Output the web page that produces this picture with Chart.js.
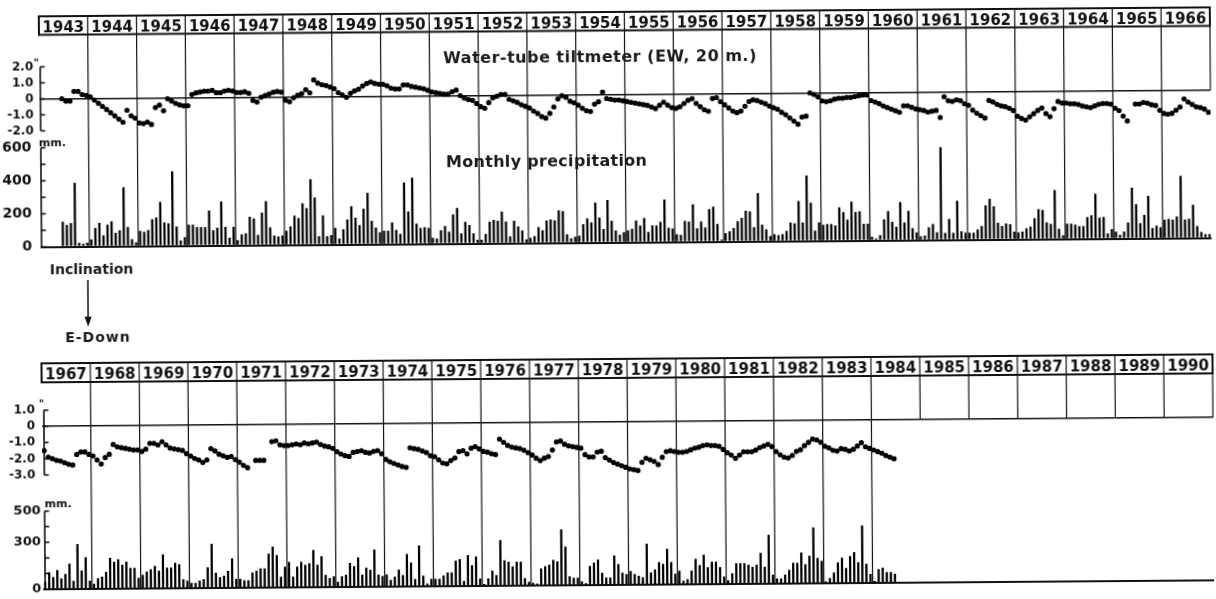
<!DOCTYPE html>
<html><head><meta charset="utf-8">
<script src="https://cdn.jsdelivr.net/npm/chart.js@4.4.0/dist/chart.umd.min.js"></script>
<style>
html,body{margin:0;padding:0;background:#fff;overflow:hidden;}
#wrap{position:relative;width:1216px;height:599px;transform:rotate(-0.44deg);transform-origin:608px 299.5px;}
canvas{position:absolute;left:0;}
.t{position:absolute;font-family:"DejaVu Sans",sans-serif;font-weight:bold;color:#1a1a1a;white-space:nowrap;}
</style></head><body>
<div id="wrap">
<canvas id="c1" width="1216" height="262" style="top:0px"></canvas>
<canvas id="c2" width="1216" height="349" style="top:250px"></canvas>
<div class="t" style="left:445px;top:48.5px;font-size:16px;line-height:16px;letter-spacing:0.5px">Water-tube tiltmeter (EW, 20 m.)</div>
<div class="t" style="left:447px;top:153px;font-size:16px;line-height:16px;letter-spacing:0.3px">Monthly precipitation</div>
<div class="t" style="left:50px;top:257.5px;font-size:14px;line-height:14px">Inclination</div>
<div class="t" style="left:65px;top:326px;font-size:14px;line-height:14px;letter-spacing:1px">E-Down</div>
</div>
<script>
// ---------- DATA ----------
const yearsTop = ['1943','1944','1945','1946','1947','1948','1949','1950','1951','1952','1953','1954',
                  '1955','1956','1957','1958','1959','1960','1961','1962','1963','1964','1965','1966'];
const yearsBottom = ['1967','1968','1969','1970','1971','1972','1973','1974','1975','1976','1977','1978',
                     '1979','1980','1981','1982','1983','1984','1985','1986','1987','1988','1989','1990'];

// tilt (seconds of arc), monthly, one row per year
const tiltTop = [
 [null,null,null,null,null,0.0,-0.15,-0.15,0.45,0.45,0.25,0.2],
 [0.1,-0.1,-0.3,-0.5,-0.7,-0.9,-1.1,-1.3,-1.5,-0.75,-1.1,-1.25],
 [-1.55,-1.6,-1.5,-1.65,-0.6,-0.45,-0.8,-0.05,-0.2,-0.35,-0.45,-0.5],
 [-0.5,0.2,0.3,0.35,0.4,0.4,0.45,0.3,0.3,0.4,0.45,0.4],
 [0.3,0.3,0.35,0.25,-0.2,-0.3,0.0,0.1,0.2,0.3,0.35,0.3],
 [-0.2,-0.3,-0.05,0.1,0.2,0.45,0.25,1.05,0.85,0.75,0.7,0.6],
 [0.5,0.25,0.1,-0.05,0.2,0.35,0.45,0.65,0.8,0.9,0.8,0.75],
 [0.75,0.65,0.5,0.45,0.45,0.7,0.7,0.6,0.55,0.5,0.45,0.35],
 [0.25,0.2,0.15,0.1,0.1,0.25,0.35,0.0,-0.15,-0.25,-0.3,-0.5],
 [-0.7,-0.8,-0.45,-0.15,-0.05,0.05,0.05,-0.25,-0.35,-0.45,-0.6,-0.7],
 [-0.8,-1.0,-1.15,-1.35,-1.45,-1.15,-0.75,-0.25,-0.05,-0.15,-0.4,-0.5],
 [-0.65,-0.85,-1.0,-1.05,-0.6,-0.45,0.15,-0.25,-0.3,-0.35,-0.35,-0.4],
 [-0.45,-0.5,-0.55,-0.6,-0.65,-0.7,-0.8,-0.9,-0.7,-0.5,-0.7,-0.85],
 [-0.9,-0.8,-0.6,-0.4,-0.3,-0.6,-0.8,-1.0,-1.1,-0.3,-0.25,-0.5],
 [-0.7,-0.9,-1.1,-1.2,-1.1,-0.8,-0.5,-0.4,-0.45,-0.55,-0.65,-0.8],
 [-0.9,-1.0,-1.2,-1.35,-1.55,-1.75,-1.95,-1.5,-1.45,0.0,-0.1,-0.25],
 [-0.5,-0.55,-0.5,-0.4,-0.35,-0.35,-0.3,-0.3,-0.25,-0.2,-0.15,-0.15],
 [-0.5,-0.6,-0.7,-0.85,-0.95,-1.05,-1.15,-1.25,-0.85,-0.85,-0.95,-1.05],
 [-1.1,-1.15,-1.25,-1.2,-1.15,-1.6,-0.3,-0.55,-0.6,-0.5,-0.55,-0.75],
 [-0.85,-1.15,-1.35,-1.5,-1.65,-0.55,-0.65,-0.8,-0.9,-0.95,-1.05,-1.2],
 [-1.55,-1.7,-1.8,-1.6,-1.4,-1.2,-1.05,-1.4,-1.6,-1.1,-0.65,-0.75],
 [-0.75,-0.8,-0.8,-0.85,-0.95,-1.0,-1.05,-0.95,-0.85,-0.8,-0.8,-0.85],
 [-1.1,-1.25,-1.6,-1.9,null,-0.85,-0.85,-0.75,-0.8,-0.9,-0.95,-1.25],
 [-1.45,-1.5,-1.45,-1.25,-1.05,-0.55,-0.75,-0.9,-1.05,-1.1,-1.2,-1.4]
];
const tiltBottom = [
 [-1.5,-1.9,-2.0,-2.1,-2.15,-2.25,-2.35,-2.4,-1.75,-1.6,-1.6,-1.75],
 [-1.85,-2.1,-2.35,-1.95,-1.75,-1.15,-1.3,-1.35,-1.4,-1.45,-1.5,-1.5],
 [-1.6,-1.45,-1.1,-1.1,-1.2,-1.0,-1.2,-1.4,-1.45,-1.5,-1.55,-1.75],
 [-1.9,-2.05,-2.15,-2.3,-2.15,-1.45,-1.6,-1.8,-1.9,-2.0,-1.95,-2.15],
 [-2.3,-2.5,-2.65,null,-2.2,-2.2,-2.2,null,-1.05,-1.0,-1.25,-1.3],
 [-1.3,-1.25,-1.2,-1.25,-1.15,-1.2,-1.15,-1.1,-1.25,-1.35,-1.4,-1.5],
 [-1.7,-1.85,-1.95,-2.0,-1.75,-1.7,-1.65,-1.75,-1.8,-1.7,-1.65,-1.85],
 [-2.2,-2.35,-2.45,-2.55,-2.65,-2.7,-1.5,-1.55,-1.6,-1.7,-1.8,-2.0],
 [-2.05,-2.25,-2.45,-2.5,-2.3,-2.15,-1.75,-1.7,-1.9,-1.55,-1.45,-1.6],
 [-1.75,-1.8,-1.9,-1.95,-1.0,-1.2,-1.4,-1.5,-1.55,-1.6,-1.7,-1.85],
 [-2.0,-2.2,-2.35,-2.2,-2.1,-1.7,-1.2,-1.15,-1.35,-1.45,-1.5,-1.55],
 [-1.6,-2.0,-2.15,-2.15,-1.85,-1.8,-2.2,-2.35,-2.5,-2.6,-2.7,-2.8],
 [-2.9,-2.95,-3.0,-2.5,-2.25,-2.35,-2.45,-2.65,-2.2,-1.85,-1.8,-1.85],
 [-1.9,-1.9,-1.85,-1.75,-1.65,-1.6,-1.5,-1.45,-1.5,-1.5,-1.55,-1.75],
 [-1.95,-2.1,-2.3,-2.1,-1.9,-1.9,-1.9,-1.8,-1.65,-1.55,-1.45,-1.6],
 [-1.9,-2.1,-2.25,-2.3,-2.15,-1.9,-1.8,-1.55,-1.35,-1.15,-1.2,-1.35],
 [-1.6,-1.7,-1.85,-1.9,-1.75,-1.8,-1.9,-1.8,-1.6,-1.4,-1.65,-1.75],
 [-1.85,-1.95,-2.05,-2.2,-2.3,-2.4,null,null,null,null,null,null],
 [null,null,null,null,null,null,null,null,null,null,null,null],
 [null,null,null,null,null,null,null,null,null,null,null,null],
 [null,null,null,null,null,null,null,null,null,null,null,null],
 [null,null,null,null,null,null,null,null,null,null,null,null],
 [null,null,null,null,null,null,null,null,null,null,null,null],
 [null,null,null,null,null,null,null,null,null,null,null,null]
];

// monthly precipitation (mm), one row per year
const precipTop = [
 [null,null,null,null,null,150,130,140,385,20,15,20],
 [40,110,140,65,130,150,80,95,355,115,40,20],
 [90,85,95,160,170,265,140,135,450,115,30,50],
 [125,125,110,110,110,210,90,105,265,110,45,110],
 [30,65,70,170,160,60,195,265,105,55,50,55],
 [85,110,175,160,250,220,395,285,50,175,50,55],
 [100,35,90,150,230,160,115,215,310,140,100,70],
 [80,80,130,85,60,370,195,400,120,95,100,95],
 [35,30,80,105,70,175,215,60,130,110,60,20],
 [20,55,130,140,135,190,130,40,135,100,75,20],
 [30,40,95,75,135,140,135,195,190,50,25,35],
 [40,110,145,120,240,150,80,255,130,70,45,60],
 [70,80,130,100,145,60,100,100,120,255,85,80],
 [45,40,125,120,225,80,120,85,195,210,105,10],
 [50,60,80,120,140,185,180,85,290,100,70,30],
 [40,35,40,60,110,105,240,110,395,230,60,110],
 [95,100,100,90,200,170,125,235,170,175,100,100],
 [20,10,30,125,175,110,80,230,105,175,70,45],
 [20,25,75,95,45,560,40,125,40,235,50,40],
 [40,40,60,80,205,245,200,100,80,95,90,45],
 [40,45,65,75,125,180,175,100,90,295,60,20],
 [90,90,85,75,75,130,140,270,125,130,30,55],
 [40,20,40,95,305,205,90,140,255,60,75,65],
 [110,115,110,130,375,110,115,200,70,35,20,20]
];
const precipBottom = [
 [45,105,75,120,65,95,160,50,285,115,200,50],
 [30,65,75,105,195,170,185,150,170,130,130,65],
 [85,105,120,140,110,215,130,130,160,150,55,45],
 [30,30,45,55,130,280,95,65,75,105,185,55],
 [55,45,45,95,105,120,120,215,260,205,65,130],
 [160,65,130,160,140,150,235,140,195,75,55,65],
 [30,65,75,150,130,185,75,120,105,235,75,65],
 [75,40,60,105,70,205,150,45,260,65,15,45],
 [45,45,65,85,85,160,170,30,195,130,185,45],
 [10,45,95,65,290,160,150,120,150,150,45,20],
 [15,10,105,120,130,160,150,355,245,55,45,45],
 [20,10,120,140,160,75,45,45,185,130,75,65],
 [85,65,55,45,260,75,95,140,130,225,140,65],
 [85,20,30,85,160,120,185,105,140,140,105,45],
 [20,65,130,130,130,120,105,120,195,105,310,55],
 [30,30,55,85,130,130,195,120,175,355,160,140],
 [10,30,65,130,160,95,170,195,130,365,120,55],
 [10,85,95,65,65,55,null,null,null,null,null,null],
 [null,null,null,null,null,null,null,null,null,null,null,null],
 [null,null,null,null,null,null,null,null,null,null,null,null],
 [null,null,null,null,null,null,null,null,null,null,null,null],
 [null,null,null,null,null,null,null,null,null,null,null,null],
 [null,null,null,null,null,null,null,null,null,null,null,null],
 [null,null,null,null,null,null,null,null,null,null,null,null]
];

// tick labels
const tiltTicksTop = [2, 1, 0, -1, -2];
const precipTicksTop = [0, 200, 400, 600];
const tiltTicksBottom = [1, 0, -1, -2, -3];
const precipTicksBottom = [0, 300, 500];

// ---------- DRAWING ----------
const INK = '#111';
Chart.defaults.font.family = '"DejaVu Sans", sans-serif';

const decorPlugin = {
  id: 'panelDecor',
  beforeDatasetsDraw(chart, args, o) {
    const {ctx, chartArea: a, scales} = chart;
    const xm = scales.xm, yt = scales.yt, yp = scales.yp;
    ctx.save();
    ctx.strokeStyle = INK; ctx.fillStyle = INK;
    // header box
    ctx.lineWidth = 2;
    ctx.strokeRect(a.left, o.headerTop, a.right - a.left, a.top - o.headerTop);
    // year boundary lines
    ctx.lineWidth = 1.2;
    for (let k = 1; k <= 24; k++) {
      const x = xm.getPixelForValue(12 * k);
      const yb = k <= o.fullUntil ? yp.getPixelForValue(0) : yt.getPixelForValue(0);
      ctx.beginPath(); ctx.moveTo(x, o.headerTop); ctx.lineTo(x, yb); ctx.stroke();
    }
    // axis brackets
    const ax = a.left + o.axisDx;
    const bracket = (scale, vals, step) => {
      const vmax = Math.max(...vals), vmin = Math.min(...vals);
      ctx.lineWidth = 1.6;
      ctx.beginPath();
      ctx.moveTo(ax, scale.getPixelForValue(vmax));
      ctx.lineTo(ax, scale.getPixelForValue(vmin));
      ctx.stroke();
      for (let v = vmin; v <= vmax + 1e-9; v += step) {
        const y = scale.getPixelForValue(v);
        ctx.beginPath(); ctx.moveTo(ax, y); ctx.lineTo(ax + 4.5, y); ctx.stroke();
      }
    };
    bracket(yt, o.tiltTicks, 1);
    bracket(yp, o.precipTicks, 100);
    // unit marks
    ctx.font = 'bold 10px "DejaVu Sans"';
    ctx.textAlign = 'left'; ctx.textBaseline = 'alphabetic';
    ctx.fillText('"', o.secX, yt.getPixelForValue(Math.max(...o.tiltTicks)) + o.secDy);
    ctx.font = 'bold 11px "DejaVu Sans"';
    ctx.fillText('mm.', o.mmX, yp.getPixelForValue(Math.max(...o.precipTicks)) + o.mmDy);
    // arrow
    if (o.arrow) {
      const ar = o.arrow;
      ctx.lineWidth = 1.5;
      ctx.beginPath(); ctx.moveTo(ar.x, ar.y1); ctx.lineTo(ar.x, ar.y2 - 8); ctx.stroke();
      ctx.beginPath(); ctx.moveTo(ar.x - 3.5, ar.y2 - 10); ctx.lineTo(ar.x + 3.5, ar.y2 - 10); ctx.lineTo(ar.x, ar.y2); ctx.closePath(); ctx.fill();
    }
    ctx.restore();
  }
};

function makePanel(id, c) {
  const tilt = c.tilt.flat(), precip = c.precip.flat();
  const tiltPts = [], precipPts = [];
  tilt.forEach((v, i) => { if (v !== null) tiltPts.push({x: i + 0.5, y: v}); });
  precip.forEach((v, i) => { if (v !== null) precipPts.push({x: i + 0.5, y: v}); });
  const zeroGrid = (w) => ({
    drawTicks: false,
    color: (g) => (g.tick && g.tick.value === 0) ? INK : 'rgba(0,0,0,0)',
    lineWidth: w
  });
  return new Chart(document.getElementById(id), {
    type: 'scatter',
    data: { datasets: [
      { type: 'bar', data: precipPts, xAxisID: 'xm', yAxisID: 'yp', backgroundColor: '#000',
        barThickness: 1.6, borderWidth: 0 },
      { type: 'scatter', data: tiltPts, xAxisID: 'xm', yAxisID: 'yt', pointRadius: 2.6,
        pointBackgroundColor: '#000', pointBorderWidth: 0, showLine: false }
    ]},
    options: {
      responsive: false, animation: false, events: [],
      layout: { padding: { top: c.padTop, bottom: c.padBottom, left: 0, right: c.padRight } },
      plugins: { legend: { display: false }, tooltip: { enabled: false }, panelDecor: c.decor },
      scales: {
        xy: { type: 'category', labels: c.years, position: 'top', offset: true,
              grid: { display: false, drawTicks: false }, border: { display: false },
              ticks: { autoSkip: false, maxRotation: 0, minRotation: 0, padding: c.yearPad, color: '#111',
                       font: { weight: 'bold', size: 15 } },
              afterFit(s) { s.height = c.headerH; } },
        xm: { type: 'linear', display: false, offset: false, min: 0, max: 288,
              grid: { offset: false } },
        yt: { type: 'linear', position: 'left', stack: 'panel', stackWeight: c.tiltW, weight: 2,
              min: c.tiltMin, max: c.tiltMax,
              afterBuildTicks(s) { s.ticks = c.decor.tiltTicks.map(v => ({value: v})); },
              afterFit(s) { s.width = 41; },
              grid: zeroGrid(1.4), border: { display: false },
              ticks: { autoSkip: false, padding: c.tiltPad, color: '#111', font: { weight: 'bold', size: c.tiltFont },
                       callback: (v) => v === 0 ? '0' : Number(v).toFixed(1) } },
        yp: { type: 'linear', position: 'left', stack: 'panel', stackWeight: c.precipW, weight: 1,
              min: 0, max: c.precipMax,
              afterBuildTicks(s) { s.ticks = c.decor.precipTicks.map(v => ({value: v})); },
              afterFit(s) { s.width = 41; },
              grid: zeroGrid(2), border: { display: false },
              ticks: { autoSkip: false, padding: c.precipPad, color: '#111', font: { weight: 'bold', size: c.precipFont },
                       callback: (v) => String(v) } }
      }
    },
    plugins: [decorPlugin]
  });
}

// top panel: chart area 30.5..242.5 ; tilt zero 94.5 (16 px/unit) ; precip 0 at 242.5 (0.165 px/mm)
makePanel('c1', {
  years: yearsTop, tilt: tiltTop, precip: precipTop,
  padTop: 11.5, headerH: 19, padBottom: 19.5, padRight: 3, yearPad: -3,
  tiltW: 105.5, precipW: 106.5,
  tiltMax: (94.5 - 30.5) / 16, tiltMin: (94.5 - 136) / 16,
  precipMax: 106.5 / 0.165,
  tiltPad: 6, tiltFont: 12, precipPad: 8.5, precipFont: 14,
  decor: { headerTop: 12, fullUntil: 23, tiltTicks: tiltTicksTop, precipTicks: precipTicksTop,
           axisDx: 1, secX: 35.5, secDy: -1, mmX: 40, mmDy: -2 }
});

// bottom panel (canvas top 250): chart area 128..335.5 ; tilt zero 172.2 (16.25 px/unit) ; precip 0 at 335.5 (0.1566 px/mm)
makePanel('c2', {
  years: yearsBottom, tilt: tiltBottom, precip: precipBottom,
  padTop: 109, headerH: 19, padBottom: 13.5, padRight: 1.5, yearPad: -2,
  tiltW: 110, precipW: 97.5,
  tiltMax: (172.2 - 128) / 16.25, tiltMin: (172.2 - 238) / 16.25,
  precipMax: 97.5 / 0.1566,
  tiltPad: 7, tiltFont: 12, precipPad: 2, precipFont: 13,
  decor: { headerTop: 109, fullUntil: 17, tiltTicks: tiltTicksBottom, precipTicks: precipTicksBottom,
           axisDx: 2, secX: 38, secDy: -3, mmX: 43, mmDy: -4,
           arrow: { x: 88, y1: 26, y2: 72.7 } }
});
</script>
</body></html>
